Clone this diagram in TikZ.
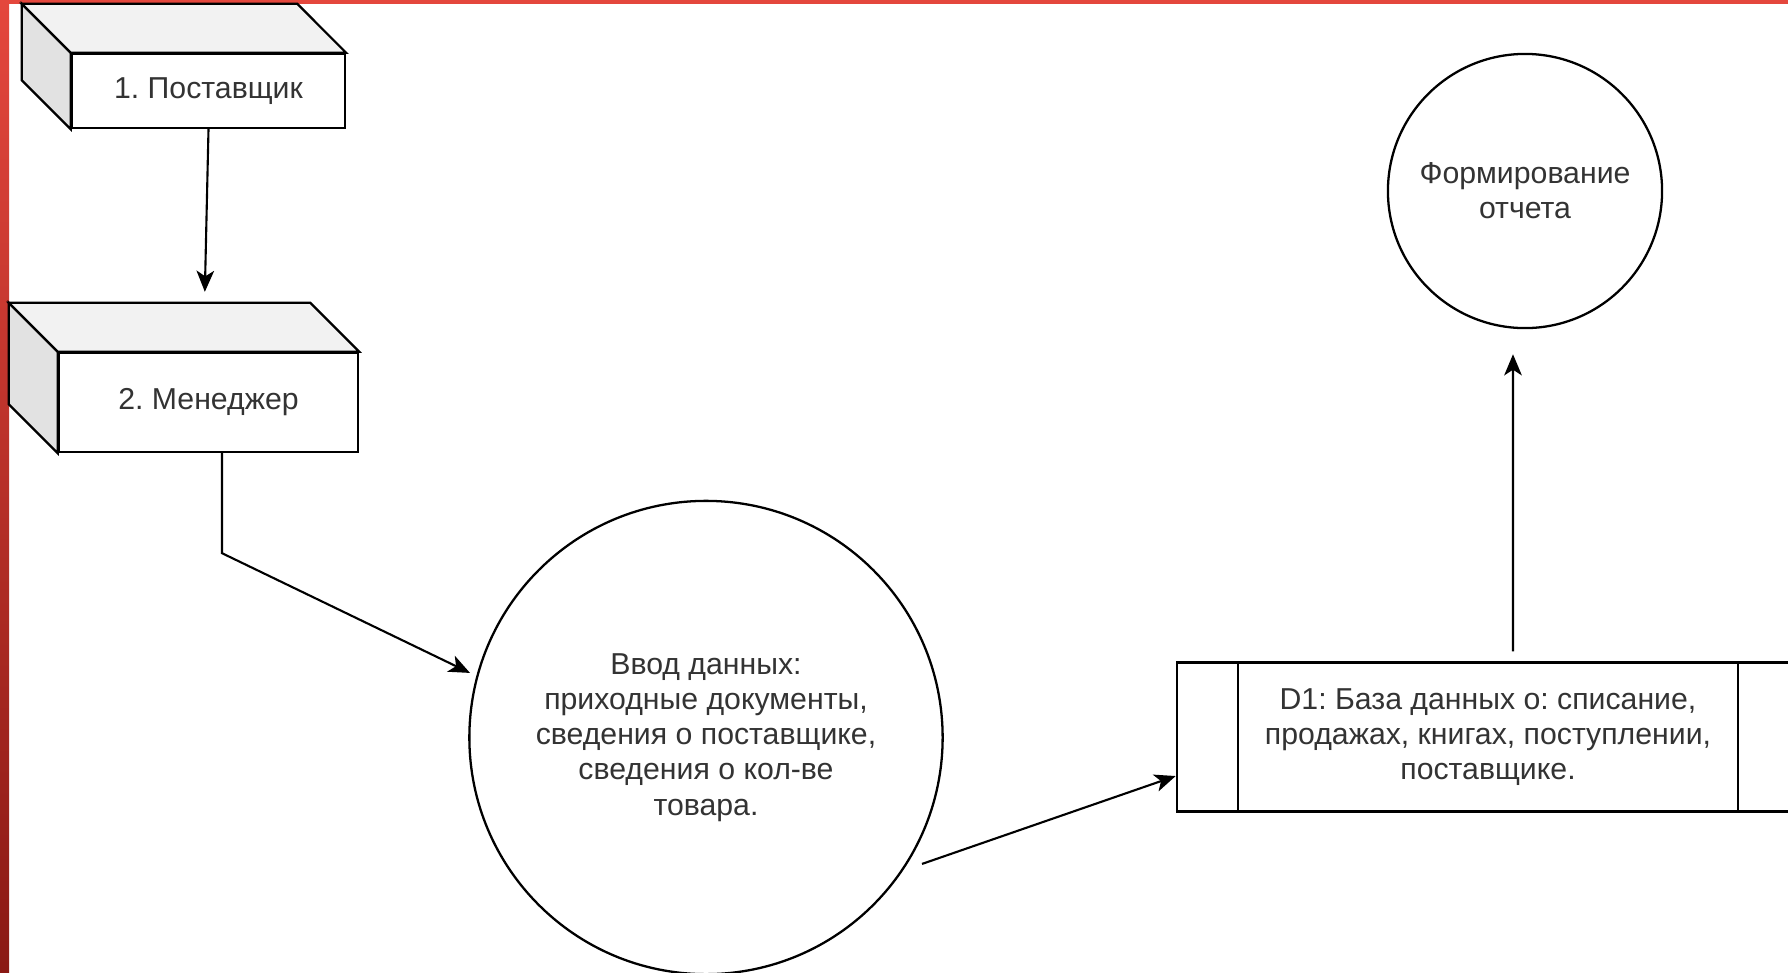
\documentclass[tikz,border=0pt]{standalone}
\usepackage{fontspec}
\setmainfont{Liberation Sans}
\usetikzlibrary{arrows.meta}
\definecolor{barred}{HTML}{E4473D}
\definecolor{darkred}{HTML}{8A1914}
\definecolor{topface}{HTML}{F2F2F2}
\definecolor{sideface}{HTML}{E2E2E2}
\frenchspacing
\tikzset{
 every node/.style={text=black!80,font=\fontsize{8.6}{10}\selectfont},
 ext/.style={draw,fill=white,line width=0.65pt,minimum height=#1},
 proc/.style={draw,circle,line width=0.65pt,align=center,inner sep=0pt},
 store/.style={draw,line width=0.65pt,minimum width=6.22cm,minimum height=1.49cm,align=center},
 flow/.style={line width=0.6pt,-{Stealth[length=6pt,width=5pt,inset=1.6pt]}}
}
\begin{document}
\begin{tikzpicture}[x=0.01cm,y=-0.01cm]
 \useasboundingbox (0,0) rectangle (1788,972);
 \clip (0,0) rectangle (1788,972);
 \fill[white] (0,0) rectangle (1788,972);
 \fill[barred] (0,0) rectangle (1788,4);
 \shade[top color=barred,bottom color=darkred] (0,0) rectangle (9,972);

 \node[ext=0.74cm,minimum width=2.73cm] (sup) at (208.5,91) {1. Поставщик};
 \node[ext=0.99cm,minimum width=2.99cm] (mgr) at (208.5,402.5) {2. Менеджер};
 \foreach \b in {sup,mgr}{
  \filldraw[fill=sideface,line width=0.65pt] (\b.north west) -- ++(-49,-49)
   -- ([shift={(-0.49cm,0.49cm)}]\b.south west) -- (\b.south west) -- cycle;
  \filldraw[fill=topface,line width=0.65pt] (\b.north west) -- ++(-49,-49)
   -- ([shift={(-0.49cm,0.49cm)}]\b.north east) -- (\b.north east) -- cycle;
 }

 \node[proc,minimum size=4.73cm] (inp) at (706,737.5)
  {Ввод данных:\\приходные документы,\\сведения о поставщике,\\сведения о кол-ве\\товара.};
 \node[proc,minimum size=2.74cm] (rep) at (1525,191) {Формирование\\отчета};
 \node[store] (db) at (1488,737)
  {D1: База данных о: списание,\\продажах, книгах, поступлении,\\поставщике.};
 \draw[line width=0.65pt] ([xshift=0.62cm]db.north west) -- ([xshift=0.62cm]db.south west);
 \draw[line width=0.65pt] ([xshift=-0.62cm]db.north east) -- ([xshift=-0.62cm]db.south east);

 \draw[flow,shorten >=0.6cm] (sup.south) -- ([xshift=-0.05cm]mgr.north);
 \draw[flow,shorten >=0.07cm] ([xshift=0.135cm]mgr.south) -- ++(0,100) -- (inp.165);
 \draw[flow,shorten <=0.2cm] (inp.-34) -- ([yshift=-0.39cm]db.west);
 \draw[flow,shorten <=0.1cm,shorten >=0.25cm] ([xshift=0.25cm]db.north) -- ([xshift=-0.12cm]rep.south);
\end{tikzpicture}
\end{document}
